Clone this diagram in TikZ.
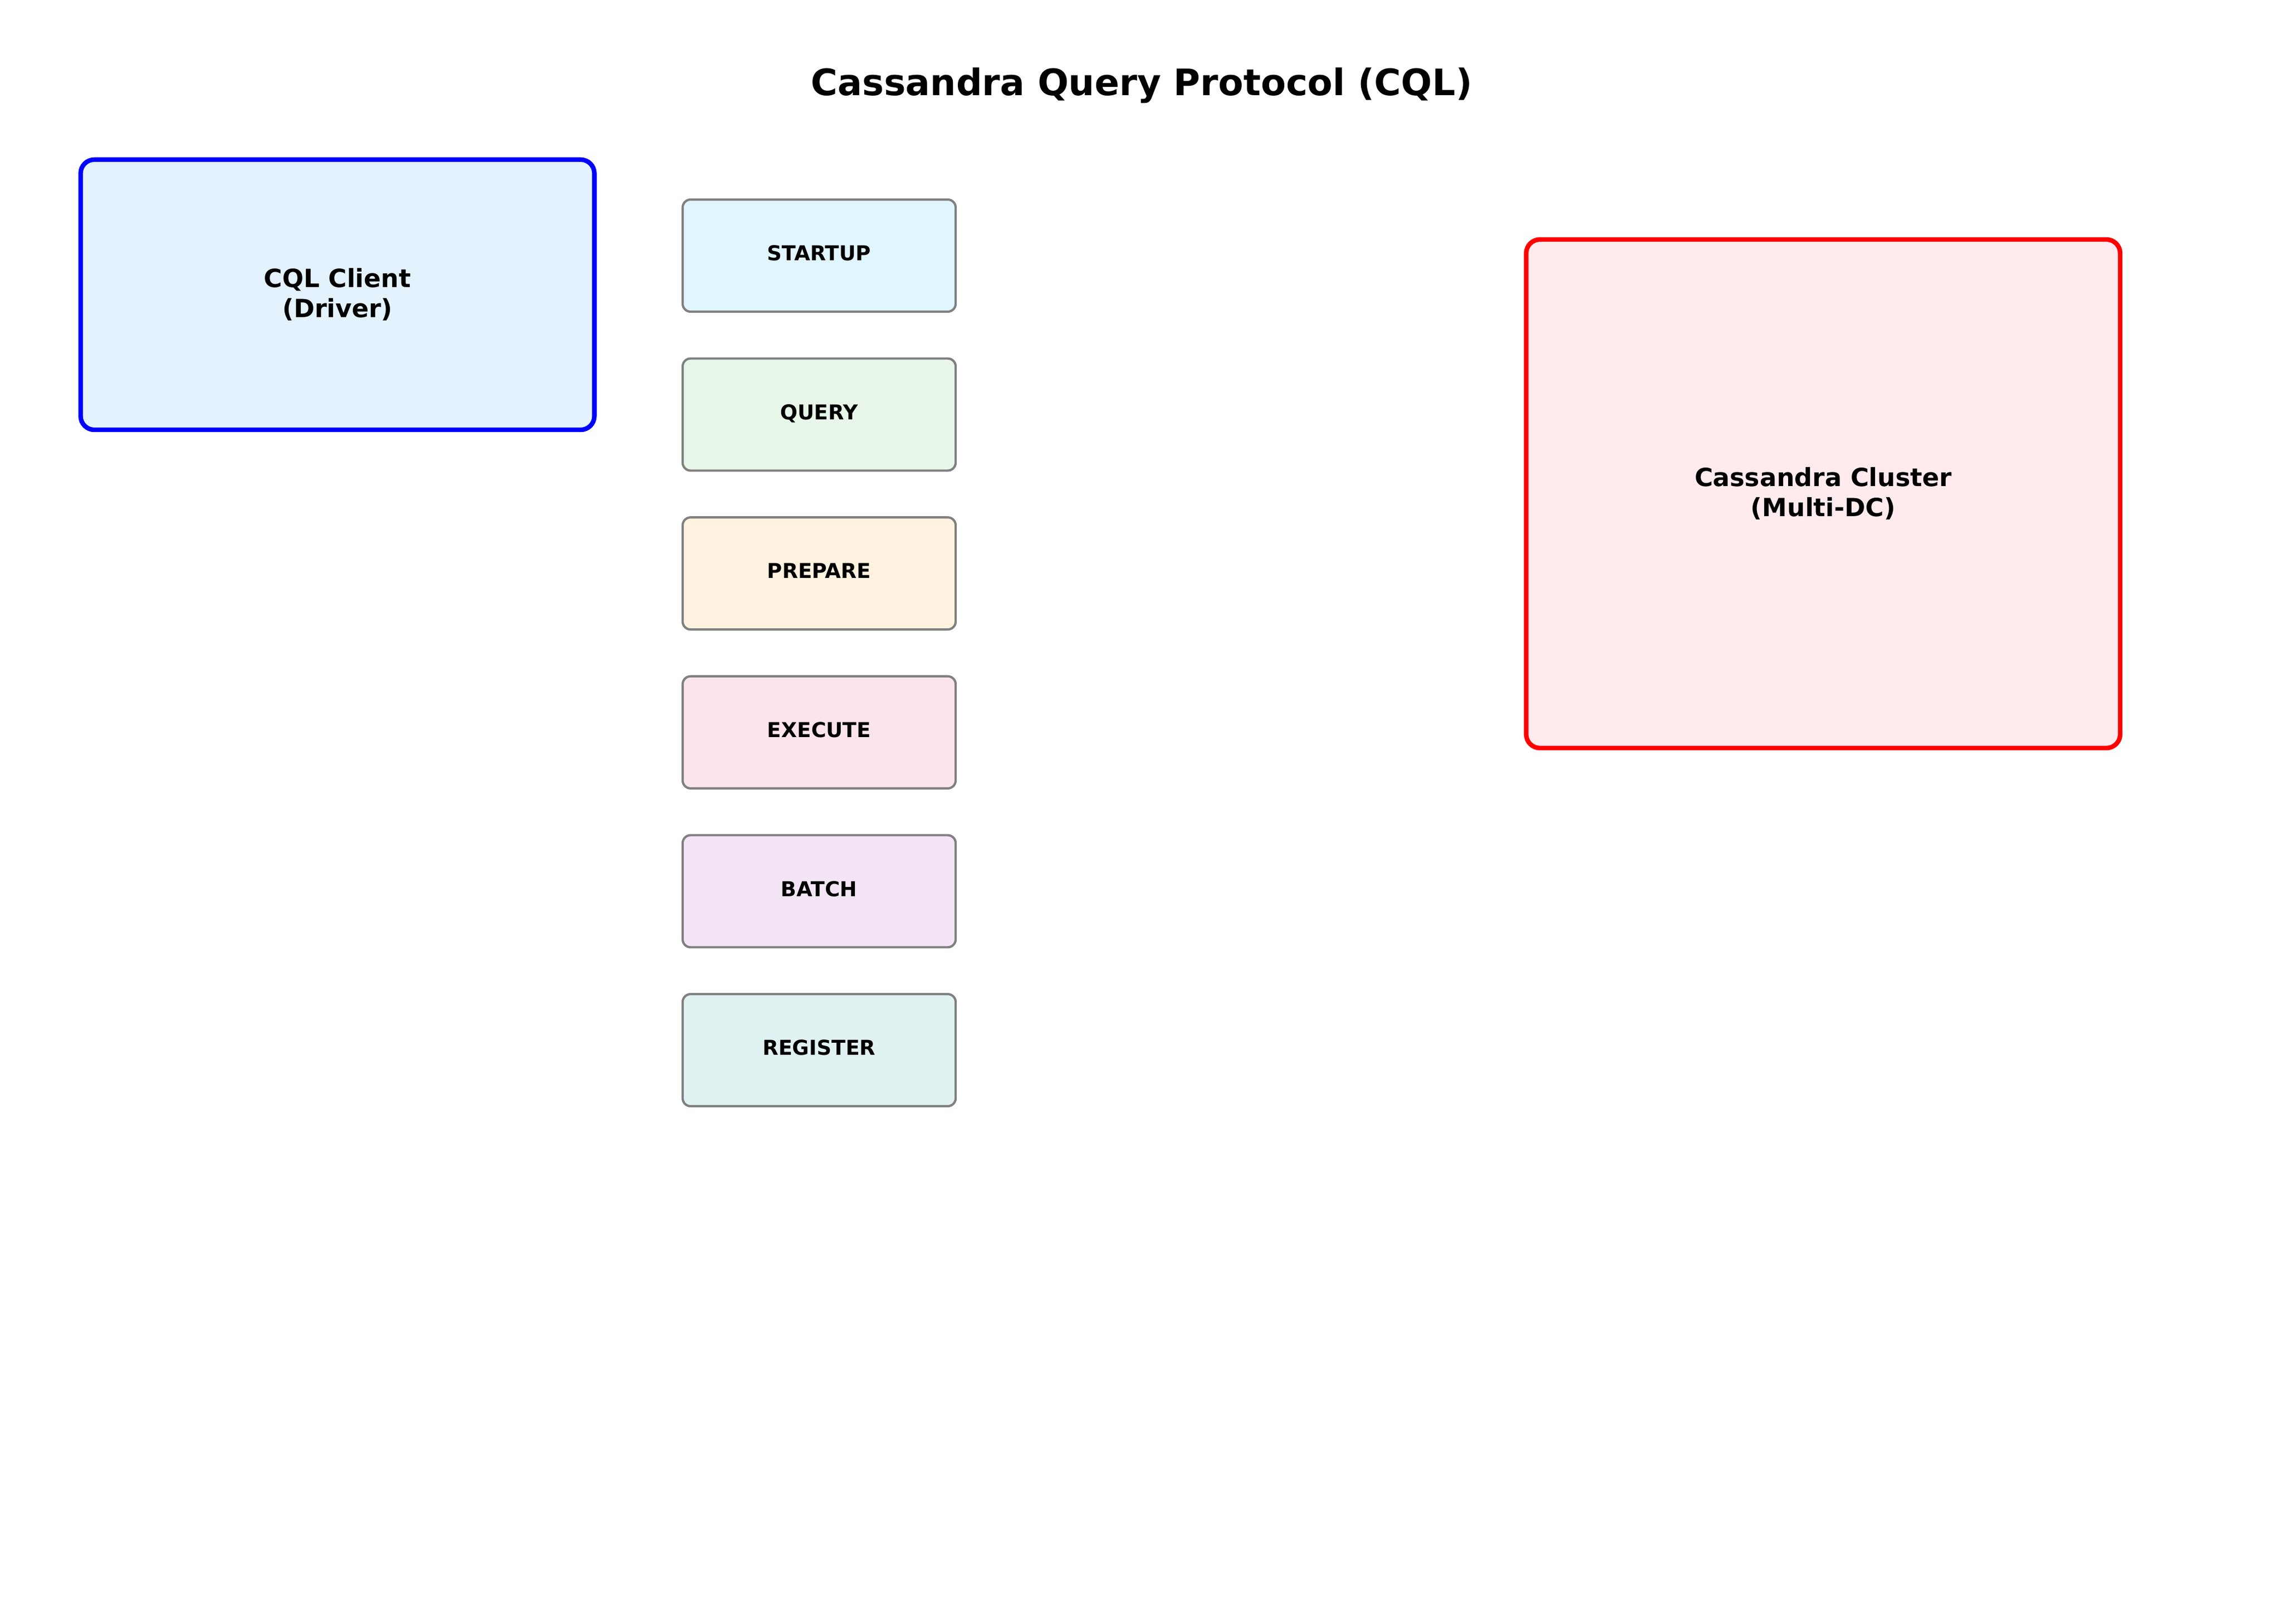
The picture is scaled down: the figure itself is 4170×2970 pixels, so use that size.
\documentclass[tikz,border=0pt]{standalone}
\usepackage{fontspec}
\setmainfont{DejaVu Sans}
\definecolor{clientfill}{HTML}{E3F2FD}
\definecolor{clusterfill}{HTML}{FFEBEE}
\definecolor{cstartup}{HTML}{E1F5FE}
\definecolor{cquery}{HTML}{E8F5E9}
\definecolor{cprepare}{HTML}{FFF3E0}
\definecolor{cexecute}{HTML}{FCE4EC}
\definecolor{cbatch}{HTML}{F3E5F5}
\definecolor{cregister}{HTML}{E0F2F1}
\definecolor{msgborder}{HTML}{808080}
\tikzset{
  bigbox/.style={draw, line width=2pt, rounded corners=6pt, inner sep=0pt, align=center,
    font=\fontsize{11}{13.2}\selectfont\bfseries},
  msgbox/.style={draw=msgborder, line width=1pt, rounded corners=3.5pt, inner sep=0pt,
    minimum width=119.8pt, minimum height=49.2pt,
    font=\fontsize{9}{10.8}\selectfont\bfseries, text height=6.6pt, text depth=2.2pt},
  titlestyle/.style={font=\fontsize{16}{19.2}\selectfont\bfseries, inner sep=0pt}
}
\begin{document}
\begin{tikzpicture}[x=0.24pt, y=-0.24pt]
\useasboundingbox (0,0) rectangle (4170,2970);
\fill[white] (0,0) rectangle (4170,2970);
\node[titlestyle, anchor=base] (title) at (2087,175) {Cassandra Query Protocol (CQL)};
\node[bigbox, draw={rgb,255:red,0;green,0;blue,255}, fill=clientfill,
  minimum width=225.4pt, minimum height=118.6pt] (client) at (617,539) {CQL Client\\(Driver)};
\node[bigbox, draw={rgb,255:red,255;green,0;blue,0}, fill=clusterfill,
  minimum width=260.6pt, minimum height=223.2pt] (cluster) at (3333,903) {Cassandra Cluster\\(Multi-DC)};
\node[msgbox, fill=cstartup] (startup) at (1497.5,467.5) {STARTUP};
\node[msgbox, fill=cquery] (query) at (1497.5,758.1) {QUERY};
\node[msgbox, fill=cprepare] (prepare) at (1497.5,1048.7) {PREPARE};
\node[msgbox, fill=cexecute] (execute) at (1497.5,1339.3) {EXECUTE};
\node[msgbox, fill=cbatch] (batch) at (1497.5,1629.9) {BATCH};
\node[msgbox, fill=cregister] (register) at (1497.5,1920.5) {REGISTER};
\end{tikzpicture}
\end{document}
